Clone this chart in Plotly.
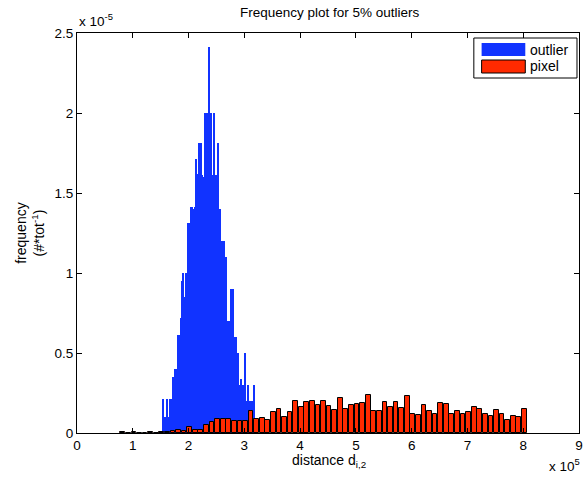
import numpy as np
import plotly.graph_objects as go

# distance bins are in units of 1e5, frequencies in units of 1e-5

# outlier histogram: narrow bins (width 0.02) from 1.55 to 3.19
outlier_start = 1.55
outlier_step = 0.02
outlier_freq = [
    0.21, 0.10, 0.10, 0.21, 0.10, 0.10, 0.21, 0.10, 0.21, 0.35,
    0.40, 0.40, 0.40, 0.61, 0.61, 0.60, 0.72, 0.95, 1.00, 0.85,
    1.00, 1.00, 1.31, 1.31, 1.20, 1.41, 1.41, 1.40, 1.41, 1.71,
    1.61, 1.62, 1.81, 1.71, 1.81, 1.61, 1.60, 2.00, 2.00, 1.90,
    2.00, 2.41, 1.81, 2.00, 1.61, 2.00, 1.61, 1.61, 1.61, 1.81,
    1.40, 1.40, 1.20, 1.20, 1.20, 1.10, 1.10, 0.70, 0.70, 0.70,
    0.70, 0.90, 0.90, 0.60, 0.60, 0.60, 0.50, 0.50, 0.30, 0.30,
    0.34, 0.30, 0.30, 0.50, 0.20, 0.20, 0.30, 0.20, 0.20, 0.20,
    0.00, 0.30, 0.00,
]

# pixel histogram: bins of width 0.1 from 0.8 to 8.0
pixel_start = 0.82
pixel_step = 0.1
pixel_freq = [
    0.008, 0.000, 0.006, 0.000, 0.000, 0.004, 0.000, 0.006, 0.008, 0.012,
    0.020, 0.012, 0.035, 0.019, 0.019, 0.050, 0.068, 0.087, 0.087, 0.088,
    0.078, 0.078, 0.073, 0.138, 0.088, 0.092, 0.079, 0.130, 0.153, 0.098,
    0.133, 0.198, 0.164, 0.195, 0.203, 0.175, 0.200, 0.169, 0.144, 0.220,
    0.150, 0.173, 0.179, 0.190, 0.238, 0.139, 0.136, 0.194, 0.160, 0.194,
    0.158, 0.230, 0.119, 0.110, 0.175, 0.139, 0.119, 0.190, 0.179, 0.119,
    0.139, 0.119, 0.133, 0.164, 0.152, 0.119, 0.104, 0.144, 0.120, 0.079,
    0.104, 0.098, 0.153,
]

x_ticks = [0, 1, 2, 3, 4, 5, 6, 7, 8, 9]
y_ticks = [0, 0.5, 1, 1.5, 2, 2.5]
y_tick_text = ["0", "0.5", "1", "1.5", "2", "2.5"]

BLUE = "#1133FF"
RED = "#FF2A00"
FONT = "Liberation Sans, Arial, Helvetica, sans-serif"

outlier_x = np.round(outlier_start + outlier_step * np.arange(len(outlier_freq)), 3)
pixel_x = np.round(pixel_start + pixel_step * np.arange(len(pixel_freq)), 3)

fig = go.Figure()
fig.add_trace(go.Bar(
    x=outlier_x, y=outlier_freq, width=0.0205,
    marker=dict(color=BLUE, line=dict(width=0)),
    name="outlier", showlegend=False,
))
fig.add_trace(go.Bar(
    x=pixel_x, y=pixel_freq, width=0.085,
    marker=dict(color=RED, line=dict(color="black", width=1)),
    name="pixel", showlegend=False,
))

axis_common = dict(
    showgrid=False, zeroline=False, showline=True, linecolor="black",
    linewidth=1, mirror="ticks", ticks="inside", ticklen=5, tickwidth=1,
    tickcolor="black", tickfont=dict(family=FONT, size=13.5, color="black"),
)
fig.update_xaxes(range=[0, 9], tickvals=x_ticks, **axis_common)
fig.update_yaxes(range=[0, 2.5], tickvals=y_ticks, ticktext=y_tick_text,
                 **axis_common)

# hand-built legend box in the upper right corner
shapes = [
    dict(type="rect", xref="paper", yref="paper", x0=0.7905, x1=0.996,
         y0=0.8875, y1=0.9875, line=dict(color="black", width=1),
         fillcolor="white", layer="above"),
    dict(type="rect", xref="paper", yref="paper", x0=0.806, x1=0.893,
         y0=0.9425, y1=0.975, line=dict(width=0), fillcolor=BLUE,
         layer="above"),
    dict(type="rect", xref="paper", yref="paper", x0=0.806, x1=0.893,
         y0=0.90, y1=0.9325, line=dict(color="black", width=1),
         fillcolor=RED, layer="above"),
]

txt = dict(family=FONT, size=14, color="black")
annotations = [
    dict(text="outlier", x=0.899, y=0.9585, xref="paper", yref="paper",
         xanchor="left", yanchor="middle", showarrow=False, font=txt),
    dict(text="pixel", x=0.899, y=0.9165, xref="paper", yref="paper",
         xanchor="left", yanchor="middle", showarrow=False, font=txt),
    dict(text="Frequency plot for 5% outliers", x=0.503, y=1.0525,
         xref="paper", yref="paper", xanchor="center", yanchor="middle",
         showarrow=False, font=dict(family=FONT, size=13.5, color="black")),
    dict(text="x 10<sup>-5</sup>", x=0.0, y=1.0325, xref="paper",
         yref="paper", xanchor="left", yanchor="middle", showarrow=False,
         font=dict(family=FONT, size=13.5, color="black")),
    dict(text="x 10<sup>5</sup>", x=1.006, y=-0.08, xref="paper",
         yref="paper", xanchor="right", yanchor="middle", showarrow=False,
         font=dict(family=FONT, size=13.5, color="black")),
    dict(text="distance d<sub>i,2</sub>", x=0.502, y=-0.07, xref="paper",
         yref="paper", xanchor="center", yanchor="middle", showarrow=False,
         font=txt),
    dict(text="frequency<br>(#*tot<sup>-1</sup>)", x=-0.094, y=0.5,
         xref="paper", yref="paper", xanchor="center", yanchor="middle",
         textangle=-90, showarrow=False, font=txt),
]

fig.update_layout(
    width=587, height=478,
    margin=dict(l=77, r=4, t=33, b=45),
    paper_bgcolor="white", plot_bgcolor="white",
    barmode="overlay", bargap=0,
    shapes=shapes, annotations=annotations,
    font=dict(family=FONT, size=13.5, color="black"),
)

fig.write_html("out.html")
